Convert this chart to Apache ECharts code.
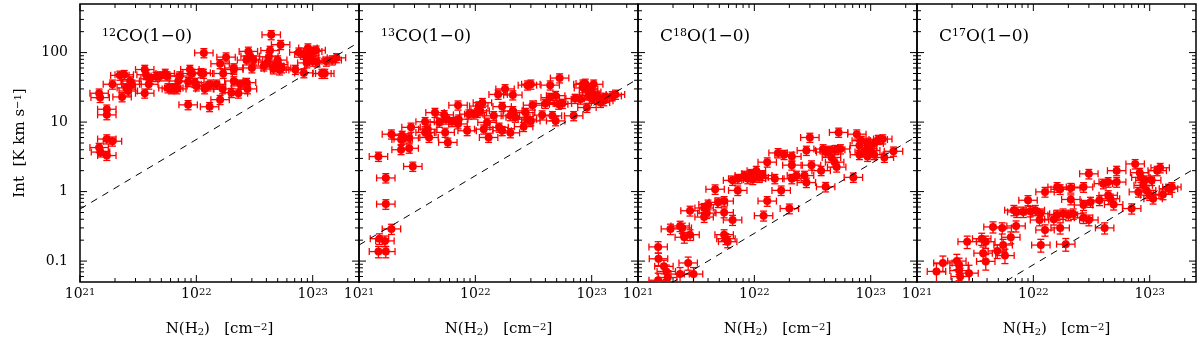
<!DOCTYPE html>
<html>
<head>
<meta charset="utf-8">
<script src="https://cdn.jsdelivr.net/npm/echarts@6/dist/echarts.min.js"></script>
<style>
  html, body { margin: 0; padding: 0; background: #fff; }
  #chart { width: 1200px; height: 347px; }
</style>
</head>
<body>
<div id="chart"></div>
<script>
// panel titles (rich text, sup = isotope number)
const panelTitles = ['{sup|12}CO(1−0)', '{sup|13}CO(1−0)', 'C{sup|18}O(1−0)', 'C{sup|17}O(1−0)'];

// tick labels
const xMajor = [1e21, 1e22, 1e23];
const yMajor = [0.1, 1, 10, 100];

// 12CO(1-0): N(H2) [cm^-2], Int [K km/s]
const co12N = [4.4e22, 5.3e22, 1.16e22, 2.8e22, 4.3e22, 7.6e22, 9.1e22, 1.0e23, 1.07e23, 8.4e22,
  9.4e22, 1.8e22, 2.9e22, 3.1e22, 2.7e22, 4.2e22, 4.1e22, 5.0e22, 4.7e22, 1.6e22,
  2.1e22, 2.1e22, 1.7e22, 3.0e22, 3.8e22, 4.6e22, 5.2e22, 5.4e22, 5.1e22, 7.1e22,
  8.4e22, 8.9e22, 1.0e23, 1.09e23, 1.31e23, 1.47e23, 1.6e23, 1.2e23, 1.27e23, 8.8e21,
  9.2e21, 1.1e22, 1.15e22, 7.2e21, 7.0e21, 5.4e21, 5.6e21, 4.9e21, 4.5e21, 3.6e21,
  3.7e21, 4.0e21, 3.9e21, 3.6e21, 2.4e21, 2.2e21, 2.7e21, 2.8e21, 2.5e21, 2.6e21,
  1.9e21, 1.46e21, 1.49e21, 2.3e21, 1.7e21, 1.7e21, 6.4e21, 5.7e21, 6.8e21, 6.1e21,
  8.5e21, 9.7e21, 1.0e22, 1.18e22, 1.26e22, 1.32e22, 1.49e22, 1.68e22, 2.0e22, 2.3e22,
  1.6e22, 2.1e22, 2.4e22, 2.7e22, 2.75e22, 8.5e21, 1.3e22, 1.7e21, 1.9e21, 1.46e21,
  1.5e21, 1.7e21];
const co12I = [180, 130, 99, 104, 107, 101, 116, 104, 108, 94,
  89, 86, 89, 78, 78, 87, 73, 78, 64, 69,
  60, 57, 50, 60, 64, 58, 56, 60, 67, 57,
  51, 71, 75, 73, 75, 78, 84, 50, 50, 57,
  50, 51, 50, 46, 39, 50, 46, 46, 45, 57,
  48, 42, 35, 26, 48, 47, 39, 35, 31, 28,
  35, 26, 22.5, 23, 15.3, 12.7, 31, 31, 30, 30,
  38, 37, 33, 30, 33, 35, 35, 30, 26.5, 26,
  21, 39, 35, 37, 30, 17.7, 16.6, 5.7, 5.3, 4.3,
  3.7, 3.3];

// 13CO(1-0)
const co13N = [5.3e22, 3.0e22, 2.8e22, 4.4e22, 1.8e22, 1.57e22, 2.1e22, 4.9e22, 4.4e22, 8.4e22,
  8.8e22, 1.04e23, 9.4e22, 8.5e22, 1.0e23, 7.1e21, 1.15e22, 1.07e22, 1.7e22, 3.1e22,
  4.0e22, 5.2e22, 5.6e22, 4.5e21, 5.4e21, 5.6e21, 4.9e21, 6.3e21, 7.2e21, 8.8e21,
  9.7e21, 1.04e22, 1.1e22, 1.44e22, 2.1e22, 2.0e22, 2.2e22, 2.7e22, 2.8e22, 3.0e22,
  3.75e22, 4.6e22, 4.9e22, 7.0e22, 7.2e22, 8.0e22, 1.15e23, 1.27e23, 1.5e23, 1.6e23,
  1.3e23, 9.1e22, 1.0e23, 9.4e22, 1.11e23, 1.19e23, 3.7e21, 3.9e21, 3.7e21, 4.0e21,
  5.5e21, 7.1e21, 8.5e21, 1.26e22, 1.18e22, 1.3e22, 1.6e22, 1.7e22, 2.0e22, 2.6e22,
  2.8e21, 1.9e21, 2.35e21, 2.4e21, 2.3e21, 2.7e21, 2.7e21, 2.3e21, 5.8e21, 1.47e21,
  2.9e21, 1.7e21, 1.7e21, 1.9e21, 1.5e21, 1.67e21, 1.47e21, 1.7e21];
const co13I = [43, 35, 34, 34, 30, 25, 24.5, 24, 22.5, 35,
  36, 35, 30, 31, 27, 17.5, 19, 17, 16.7, 17.5,
  18.5, 18, 18.5, 13.7, 12.7, 11, 9.9, 10.1, 11, 13,
  13, 13.7, 14.5, 12.3, 14.5, 12.3, 11.7, 13.7, 11, 10.4,
  12.6, 12.3, 10.4, 12.3, 21.8, 21.3, 21.3, 20.2, 23.8, 25,
  22.5, 16.2, 21.8, 24.3, 24.3, 19.1, 10.1, 7.9, 7.1, 6.0,
  7.1, 9.4, 7.5, 9.9, 7.9, 6.0, 8.4, 7.5, 7.0, 8.6,
  8.4, 6.7, 6.4, 5.7, 5.6, 5.9, 4.2, 4.0, 5.1, 3.2,
  2.3, 1.57, 0.66, 0.29, 0.21, 0.195, 0.137, 0.137];

// C18O(1-0)
const c18oN = [5.3e22, 3.0e22, 7.6e22, 8.3e22, 9.3e22, 1.27e23, 1.16e23, 1.07e23, 8.0e22, 9.4e22,
  1.0e23, 8.8e22, 8.0e22, 9.4e22, 1.07e23, 1.31e23, 1.57e23, 3.9e22, 4.1e22, 4.4e22,
  5.0e22, 5.5e22, 4.6e22, 4.9e22, 5.1e22, 3.75e22, 2.8e22, 1.6e22, 1.8e22, 2.1e22,
  1.29e22, 2.1e22, 3.1e22, 2.3e22, 2.7e22, 2.8e22, 2.1e22, 1.5e22,
  7.1e22, 4.1e22, 1.7e22, 2.0e22, 1.29e22, 1.2e22,
  6.5e21, 7.2e21, 8.2e21, 9.4e21, 1.04e22, 8.8e21, 9.7e21, 1.1e22, 1.18e22, 7.2e21,
  4.6e21, 5.5e21, 4.9e21, 4.0e21, 3.7e21, 3.9e21, 3.7e21, 2.8e21, 5.5e21, 6.5e21,
  1.9e21, 2.3e21, 2.4e21, 2.5e21, 2.8e21, 5.5e21, 5.7e21, 5.9e21,
  1.49e21, 1.5e21, 1.67e21, 1.75e21, 2.7e21, 2.3e21, 3.0e21, 1.8e21, 1.49e21];
const c18oI = [7.1, 6.0, 6.7, 5.4, 5.1, 5.7, 5.6, 4.9, 4.6, 4.2,
  3.9, 3.7, 3.4, 3.2, 3.4, 3.1, 3.8, 4.1, 3.7, 3.9,
  4.0, 4.1, 3.1, 2.65, 2.25, 2.0, 3.9, 3.6, 3.4, 3.2,
  2.65, 2.4, 2.4, 1.7, 1.7, 1.35, 1.53, 1.53,
  1.6, 1.17, 1.04, 0.57, 0.73, 0.45,
  1.45, 1.53, 1.7, 1.8, 2.0, 1.53, 1.49, 1.6, 1.7, 1.04,
  1.08, 0.73, 0.70, 0.65, 0.58, 0.49, 0.43, 0.53, 0.50, 0.39,
  0.29, 0.32, 0.30, 0.22, 0.24, 0.24, 0.21, 0.19,
  0.16, 0.108, 0.084, 0.071, 0.094, 0.065, 0.065, 0.058, 0.053];

// C17O(1-0)
const c17oN = [7.5e22, 5.2e22, 3.0e22, 1.23e23, 1.16e23, 8.2e22, 8.4e22, 9.1e22, 1.04e23, 8.8e22,
  8.0e22, 9.4e22, 1.0e23, 1.07e23, 1.3e23, 1.55e23, 1.45e23, 4.0e22, 4.4e22, 5.2e22,
  2.7e22, 1.6e22, 1.7e22, 2.1e22, 1.26e22, 4.4e22, 4.6e22, 3.7e22, 4.9e22, 2.1e22,
  3.1e22, 2.7e22, 2.2e22, 2.7e22, 3.0e22, 2.0e22, 1.8e22, 1.6e22, 1.5e22, 7.0e22,
  4.1e22, 1.7e22, 1.26e22, 1.16e22, 1.9e22, 9.0e21, 6.8e21, 7.2e21, 8.2e21, 9.4e21,
  1.04e22, 1.15e22, 1.13e22, 7.1e21, 4.5e21, 5.4e21, 6.4e21, 5.5e21, 4.9e21, 5.7e21,
  3.6e21, 3.9e21, 3.7e21, 3.9e21, 2.7e21, 1.67e21, 2.2e21, 2.3e21, 2.3e21, 2.8e21,
  1.47e21, 2.35e21];
const c17oI = [2.5, 2.0, 1.8, 2.2, 2.0, 1.87, 1.6, 1.45, 1.45, 1.23,
  0.99, 1.04, 0.89, 0.79, 0.91, 1.16, 1.1, 1.3, 1.37, 1.37,
  1.16, 1.16, 1.08, 1.13, 0.99, 0.885, 0.79, 0.75, 0.65, 0.77,
  0.71, 0.64, 0.48, 0.42, 0.39, 0.46, 0.48, 0.46, 0.40, 0.57,
  0.30, 0.30, 0.28, 0.17, 0.175, 0.75, 0.54, 0.51, 0.51, 0.52,
  0.54, 0.48, 0.39, 0.32, 0.31, 0.30, 0.22, 0.17, 0.14, 0.12,
  0.21, 0.19, 0.13, 0.099, 0.19, 0.094, 0.10, 0.087, 0.073, 0.067,
  0.071, 0.06];

// dashed reference lines (end points)
const lineN = [1e21, 2.5e23];
const co12Line = [0.56, 141];
const co13Line = [0.17, 42];
const c18oLine = [0.025, 6.3];
const c17oLine = [0.0089, 2.2];

// uncertainties: x factor, y fractional + floor
const xErrFactor = 1.2;
const yErrFrac = 0.15;
const yErrFloor = [0, 0.005, 0.006, 0.01];

const panelN = [co12N, co13N, c18oN, c17oN];
const panelI = [co12I, co13I, c18oI, c17oI];
const panelLine = [co12Line, co13Line, c18oLine, c17oLine];

const xMin = 1e21, xMax = 2.5e23, yMin = 0.05, yMax = 500;
const gridLeft = [80, 359, 638, 917];
const gridW = 279, gridTop = 4, gridH = 278;
const FONT = 'DejaVu Serif';
const RED = '#ff0000';

function minorTicks(lo, hi) {
  const out = [];
  for (let d = Math.floor(Math.log10(lo)); d <= Math.ceil(Math.log10(hi)); d++) {
    for (let k = 2; k <= 9; k++) {
      const v = k * Math.pow(10, d);
      if (v > lo * 1.0001 && v < hi * 0.9999) out.push(v);
    }
  }
  return out;
}
// [value, tick length] pairs, drawn inward on all four sides
const xTicks = xMajor.map(v => [v, 7]).concat(minorTicks(xMin, xMax).map(v => [v, 4]));
const yTicks = yMajor.map(v => [v, 7]).concat(minorTicks(yMin, yMax).map(v => [v, 4]));

const supRich = {
  sup: { fontFamily: FONT, fontSize: 10, verticalAlign: 'top', lineHeight: 10, color: '#000' },
  sub: { fontFamily: FONT, fontSize: 10, verticalAlign: 'bottom', lineHeight: 10, color: '#000' }
};

function renderTicks(params, api) {
  const cs = params.coordSys;
  const top = cs.y, bot = cs.y + cs.height, left = cs.x, right = cs.x + cs.width;
  const st = { stroke: '#000', lineWidth: 1, fill: null };
  const children = [];
  xTicks.forEach(([v, len]) => {
    const px = api.coord([v, yMin])[0];
    children.push({ type: 'line', shape: { x1: px, y1: bot, x2: px, y2: bot - len }, style: st });
    children.push({ type: 'line', shape: { x1: px, y1: top, x2: px, y2: top + len }, style: st });
  });
  yTicks.forEach(([v, len]) => {
    const py = api.coord([xMin, v])[1];
    children.push({ type: 'line', shape: { x1: left, y1: py, x2: left + len, y2: py }, style: st });
    children.push({ type: 'line', shape: { x1: right, y1: py, x2: right - len, y2: py }, style: st });
  });
  return { type: 'group', children: children };
}

function renderPoint(params, api) {
  const p = api.coord([api.value(0), api.value(1)]);
  const xl = api.coord([api.value(2), api.value(1)])[0];
  const xr = api.coord([api.value(3), api.value(1)])[0];
  const yLo = api.coord([api.value(0), api.value(4)])[1];
  const yHi = api.coord([api.value(0), api.value(5)])[1];
  const cap = 3.5;
  const st = { stroke: RED, lineWidth: 1.3, fill: null };
  return {
    type: 'group',
    children: [
      { type: 'line', shape: { x1: xl, y1: p[1], x2: xr, y2: p[1] }, style: st },
      { type: 'line', shape: { x1: xl, y1: p[1] - cap, x2: xl, y2: p[1] + cap }, style: st },
      { type: 'line', shape: { x1: xr, y1: p[1] - cap, x2: xr, y2: p[1] + cap }, style: st },
      { type: 'line', shape: { x1: p[0], y1: yLo, x2: p[0], y2: yHi }, style: st },
      { type: 'line', shape: { x1: p[0] - cap, y1: yLo, x2: p[0] + cap, y2: yLo }, style: st },
      { type: 'line', shape: { x1: p[0] - cap, y1: yHi, x2: p[0] + cap, y2: yHi }, style: st },
      { type: 'circle', shape: { cx: p[0], cy: p[1], r: 4 }, style: { fill: RED } }
    ]
  };
}

const grids = [], xAxes = [], yAxes = [], series = [], titles = [];

for (let g = 0; g < 4; g++) {
  grids.push({ left: gridLeft[g], top: gridTop, width: gridW, height: gridH,
    show: true, borderColor: '#000', borderWidth: 1.5, backgroundColor: 'transparent',
    outerBoundsMode: 'none', containLabel: false });

  xAxes.push({
    type: 'log', logBase: 10, gridIndex: g, min: xMin, max: xMax, position: 'bottom',
    axisLine: { show: false, onZero: false }, axisTick: { show: false },
    splitLine: { show: false }, minorTick: { show: false },
    axisLabel: { customValues: xMajor, margin: 5, color: '#000', fontFamily: FONT, fontSize: 14,
      formatter: v => '10{sup|' + Math.round(Math.log10(v)) + '}', rich: supRich },
    name: 'N(H{sub|2})   [cm{sup|−2}]', nameLocation: 'middle', nameGap: 40,
    nameTextStyle: { color: '#000', fontFamily: FONT, fontSize: 15, rich: supRich }
  });

  const yAx = {
    type: 'log', logBase: 10, gridIndex: g, min: yMin, max: yMax, position: 'left',
    axisLine: { show: false, onZero: false }, axisTick: { show: false },
    splitLine: { show: false }, minorTick: { show: false }
  };
  if (g === 0) {
    yAx.axisLabel = { customValues: yMajor, margin: 12, color: '#000', fontFamily: FONT, fontSize: 14,
      formatter: v => String(v) };
    yAx.name = 'Int  [K km s{sup|−1}]';
    yAx.nameLocation = 'middle';
    yAx.nameRotate = 90;
    yAx.nameGap = 52;
    yAx.nameTextStyle = { color: '#000', fontFamily: FONT, fontSize: 15, rich: supRich };
  } else {
    yAx.axisLabel = { show: false };
  }
  yAxes.push(yAx);

  const N = panelN[g], I = panelI[g];
  const pts = [];
  for (let i = 0; i < Math.min(N.length, I.length); i++) {
    const e = I[i] * yErrFrac + yErrFloor[g];
    pts.push([N[i], I[i], N[i] / xErrFactor, N[i] * xErrFactor, Math.max(I[i] - e, 1e-4), I[i] + e]);
  }

  series.push({
    type: 'line', xAxisIndex: g, yAxisIndex: g,
    data: [[lineN[0], panelLine[g][0]], [lineN[1], panelLine[g][1]]],
    symbol: 'none', clip: true, silent: true,
    lineStyle: { color: '#000', width: 1, type: [7, 6] }
  });

  series.push({
    type: 'custom', xAxisIndex: g, yAxisIndex: g, clip: true, silent: true,
    data: pts, encode: { x: 0, y: 1 }, renderItem: renderPoint
  });

  // inward ticks on all four sides of the panel
  series.push({
    type: 'custom', xAxisIndex: g, yAxisIndex: g, clip: false, silent: true, z: 5,
    data: [[xMin, yMin]], encode: { x: 0, y: 1 }, renderItem: renderTicks
  });

  titles.push({
    text: panelTitles[g], left: gridLeft[g] + 22, top: 28, padding: 0,
    textStyle: { color: '#000', fontFamily: FONT, fontSize: 17, fontWeight: 'normal',
      rich: { sup: { fontFamily: FONT, fontSize: 11, verticalAlign: 'top', lineHeight: 11, color: '#000' } } }
  });
}

const chart = echarts.init(document.getElementById('chart'), null, { renderer: 'canvas' });
chart.setOption({
  animation: false,
  backgroundColor: '#fff',
  textStyle: { fontFamily: FONT },
  title: titles,
  grid: grids,
  xAxis: xAxes,
  yAxis: yAxes,
  series: series
});
</script>
</body>
</html>
